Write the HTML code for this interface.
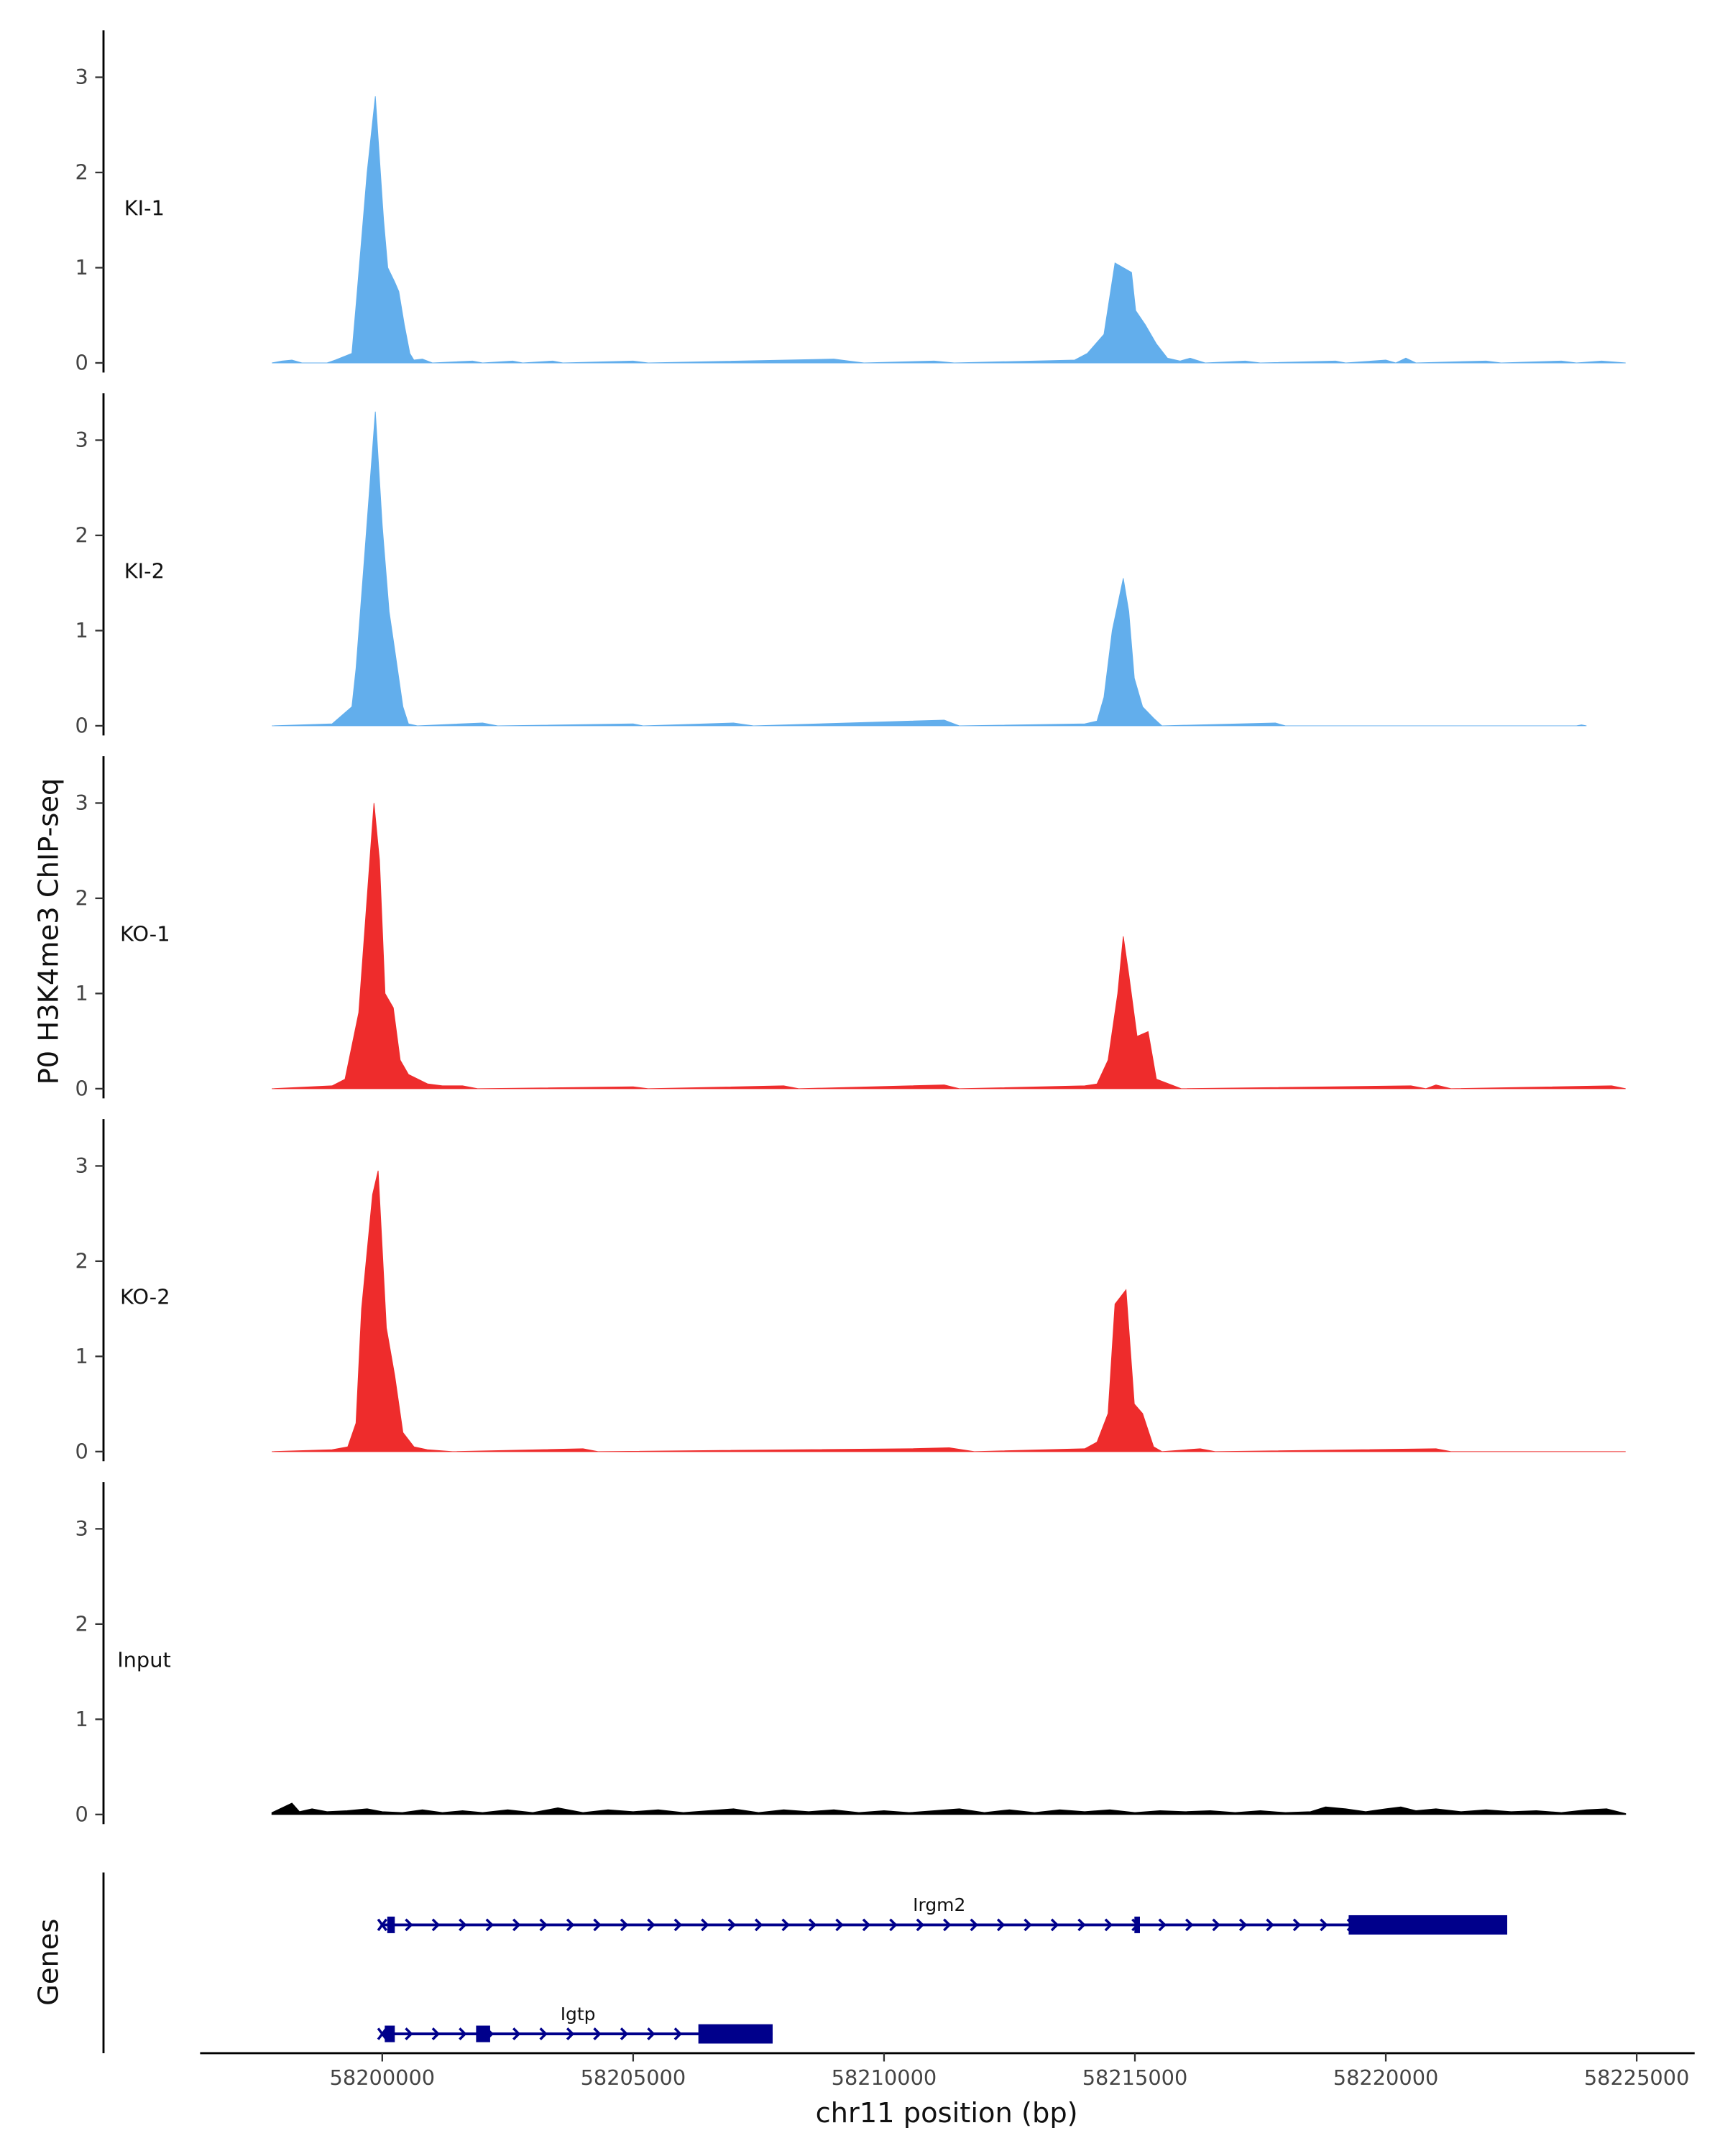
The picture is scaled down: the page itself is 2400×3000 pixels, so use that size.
<!DOCTYPE html>
<html><head><meta charset="utf-8"><style>
html,body{margin:0;padding:0;background:#fff;}
svg{display:block;font-family:"DejaVu Sans","Liberation Sans",sans-serif;}
</style></head><body>
<svg id="chart" xmlns="http://www.w3.org/2000/svg" width="2400" height="3000" viewBox="0 0 1250 1562.5">
<rect width="1250" height="1562.5" fill="#fff"/>
<text transform="translate(42,675) rotate(-90)" text-anchor="middle" font-size="20" fill="#111">P0 H3K4me3 ChIP-seq</text>
<text transform="translate(42,1422) rotate(-90)" text-anchor="middle" font-size="20" fill="#111">Genes</text>
<text x="686" y="1538" text-anchor="middle" font-size="20" fill="#111">chr11 position (bp)</text>
<g id="tracks"></g>
<g id="genes"></g>
<g id="xaxis"></g>
</svg>
<script>
const trackNames = ["KI-1","KI-2","KO-1","KO-2","Input"];
const trackColors = ["#62AEEC","#62AEEC","#EE2C2C","#EE2C2C","#000000"];
const yTicks = [0,1,2,3];
const xTicks = [58200000,58205000,58210000,58215000,58220000,58225000];
const ki1 = [[58197800,0],[58198000,0.02],[58198200,0.03],[58198400,0],[58198900,0],[58199065,0.03],[58199395,0.1],[58199477,0.6],[58199588,1.3],[58199698,2.0],[58199862,2.8],[58200027,1.5],[58200110,1.0],[58200248,0.85],[58200330,0.75],[58200440,0.4],[58200550,0.1],[58200630,0.03],[58200800,0.04],[58201000,0],[58201800,0.02],[58202000,0],[58202600,0.02],[58202800,0],[58203400,0.02],[58203600,0],[58205000,0.02],[58205300,0],[58209000,0.04],[58209300,0.02],[58209600,0],[58211000,0.02],[58211400,0],[58213000,0.02],[58213800,0.03],[58214052,0.1],[58214383,0.3],[58214603,1.05],[58214933,0.95],[58215015,0.55],[58215208,0.4],[58215428,0.2],[58215648,0.05],[58215900,0.02],[58216100,0.05],[58216400,0],[58217200,0.02],[58217500,0],[58219000,0.02],[58219200,0],[58220000,0.03],[58220200,0],[58220400,0.05],[58220600,0],[58222000,0.02],[58222300,0],[58223500,0.02],[58223800,0],[58224300,0.02],[58224780,0]];
const ki2 = [[58197800,0],[58199000,0.02],[58199395,0.2],[58199477,0.6],[58199650,1.8],[58199862,3.3],[58200000,2.1],[58200137,1.2],[58200248,0.8],[58200412,0.2],[58200522,0.02],[58200700,0],[58202000,0.03],[58202300,0],[58205000,0.02],[58205200,0],[58207000,0.03],[58207400,0],[58211200,0.06],[58211500,0],[58214000,0.02],[58214245,0.05],[58214383,0.3],[58214548,1.0],[58214768,1.55],[58214878,1.2],[58214988,0.5],[58215153,0.2],[58215373,0.08],[58215538,0],[58217800,0.03],[58218000,0],[58223800,0],[58223900,0.01],[58224000,0]];
const ko1 = [[58197800,0],[58199000,0.03],[58199258,0.1],[58199532,0.8],[58199835,3.0],[58199945,2.4],[58200055,1.0],[58200220,0.85],[58200358,0.3],[58200522,0.15],[58200907,0.05],[58201200,0.03],[58201600,0.03],[58201900,0],[58205000,0.02],[58205300,0],[58208000,0.03],[58208300,0],[58211200,0.04],[58211500,0],[58214000,0.03],[58214245,0.05],[58214465,0.3],[58214658,1.0],[58214768,1.6],[58214878,1.2],[58215043,0.55],[58215263,0.6],[58215428,0.1],[58215923,0],[58220500,0.03],[58220800,0],[58221000,0.04],[58221300,0],[58224500,0.03],[58224780,0]];
const ko2 = [[58197800,0],[58199000,0.02],[58199313,0.05],[58199477,0.3],[58199588,1.5],[58199807,2.7],[58199918,2.95],[58200082,1.3],[58200248,0.8],[58200412,0.2],[58200632,0.05],[58200900,0.02],[58201400,0],[58204000,0.03],[58204300,0],[58210500,0.03],[58211300,0.04],[58211800,0],[58214000,0.03],[58214245,0.1],[58214465,0.4],[58214603,1.55],[58214823,1.7],[58214988,0.5],[58215153,0.4],[58215373,0.05],[58215538,0],[58216300,0.03],[58216600,0],[58221000,0.03],[58221300,0],[58224780,0]];
const inputSig = [[58197800,0.02],[58198000,0.07],[58198200,0.12],[58198350,0.03],[58198600,0.06],[58198900,0.03],[58199300,0.04],[58199700,0.06],[58200000,0.03],[58200400,0.02],[58200800,0.05],[58201200,0.02],[58201600,0.04],[58202000,0.02],[58202500,0.05],[58203000,0.02],[58203500,0.07],[58204000,0.02],[58204500,0.05],[58205000,0.03],[58205500,0.05],[58206000,0.02],[58206500,0.04],[58207000,0.06],[58207500,0.02],[58208000,0.05],[58208500,0.03],[58209000,0.05],[58209500,0.02],[58210000,0.04],[58210500,0.02],[58211000,0.04],[58211500,0.06],[58212000,0.02],[58212500,0.05],[58213000,0.02],[58213500,0.05],[58214000,0.03],[58214500,0.05],[58215000,0.02],[58215500,0.04],[58216000,0.03],[58216500,0.04],[58217000,0.02],[58217500,0.04],[58218000,0.02],[58218500,0.03],[58218800,0.08],[58219200,0.06],[58219600,0.03],[58220000,0.06],[58220300,0.08],[58220600,0.04],[58221000,0.06],[58221500,0.03],[58222000,0.05],[58222500,0.03],[58223000,0.04],[58223500,0.02],[58224000,0.05],[58224400,0.06],[58224780,0.01]];
const signals = [ki1,ki2,ko1,ko2,inputSig];

const NS="http://www.w3.org/2000/svg";
function mk(tag,attrs,parent){const e=document.createElementNS(NS,tag);for(const k in attrs)e.setAttribute(k,attrs[k]);parent.appendChild(e);return e;}
const xScale = bp => 277 + (bp-58200000)*(909/25000);
const yScale = (v,i) => 263 + i*263 - v*69;

const tg=document.getElementById('tracks');
signals.forEach((sig,i)=>{
  const g=mk('g',{},tg);
  
  
  const ax=mk('line',{x1:75,x2:75,y1:22+i*263,y2:270+i*263,stroke:'#000','stroke-width':1.5},g);
  
  
  yTicks.forEach(t=>{
    const y=yScale(t,i);
    mk('line',{x1:69,x2:75,y1:y,y2:y,stroke:'#333','stroke-width':1.2},g);
    const tx=mk('text',{x:64,y:y+5,'text-anchor':'end','font-size':15,fill:'#444'},g);
    tx.textContent=t;
    
    
  });
  const lb=mk('text',{x:i===4?85:(i>=2?87:90),y:156+i*263,'font-size':15,fill:'#111'},g);
  lb.textContent=trackNames[i];
  
  
  let d='M'+xScale(sig[0][0])+','+yScale(0,i);
  sig.forEach(p=>{d+=' L'+xScale(p[0]).toFixed(2)+','+yScale(p[1],i).toFixed(2);});
  d+=' L'+xScale(sig[sig.length-1][0])+','+yScale(0,i)+' Z';
  const a=mk('path',{d:d,fill:trackColors[i],stroke:trackColors[i],'stroke-width':0.5},g);
  
  
});

// genes
const gg=document.getElementById('genes');
const gc="#00008B";
const gax=mk('line',{x1:75,x2:75,y1:1357,y2:1488,stroke:'#000','stroke-width':1.5},gg);


const geneNames=["Irgm2","Igtp"];
const geneStart=[58200000,58200000];
const geneEnd=[58222420,58207780];
const geneY=[1395,1474];
const geneLabelBp=[58211100,58203900];
const geneExons=[[[58200100,58200250,12],[58214990,58215100,12],[58219260,58222420,14]],[[58200050,58200250,12],[58201870,58202150,12],[58206300,58207780,14]]];
geneNames.forEach((n,i)=>{
  const g=mk('g',{},gg);
  
  
  const x1=xScale(geneStart[i]),x2=xScale(geneEnd[i]),y=geneY[i];
  mk('line',{x1:x1,x2:x2,y1:y,y2:y,stroke:gc,'stroke-width':2},g);
  mk('path',{d:`M${x1-3},${y-4} L${x1+3},${y+4} M${x1-3},${y+4} L${x1+3},${y-4}`,stroke:gc,'stroke-width':1.8},g);
  for(let x=x1+20;x<x2-8;x+=19.5){
    mk('path',{d:`M${x-3},${y-4} L${x+1},${y} L${x-3},${y+4}`,fill:'none',stroke:gc,'stroke-width':1.8},g);
  }
  geneExons[i].forEach(e=>{
    mk('rect',{x:xScale(e[0]),y:y-e[2]/2,width:xScale(e[1])-xScale(e[0]),height:e[2],fill:gc},g);
  });
  const t=mk('text',{x:xScale(geneLabelBp[i]),y:y-10,'text-anchor':'middle','font-size':13,fill:'#111'},g);
  t.textContent=n;
  
  
});

// x axis
const xg=document.getElementById('xaxis');
const xl=mk('line',{x1:145,x2:1228,y1:1488,y2:1488,stroke:'#000','stroke-width':1.5},xg);


xTicks.forEach(t=>{
  const x=xScale(t);
  mk('line',{x1:x,x2:x,y1:1488,y2:1494,stroke:'#333','stroke-width':1.2},xg);
  const tx=mk('text',{x:x,y:1511,'text-anchor':'middle','font-size':15,fill:'#444'},xg);
  tx.textContent=t;
  
  
});
</script>
</body></html>
